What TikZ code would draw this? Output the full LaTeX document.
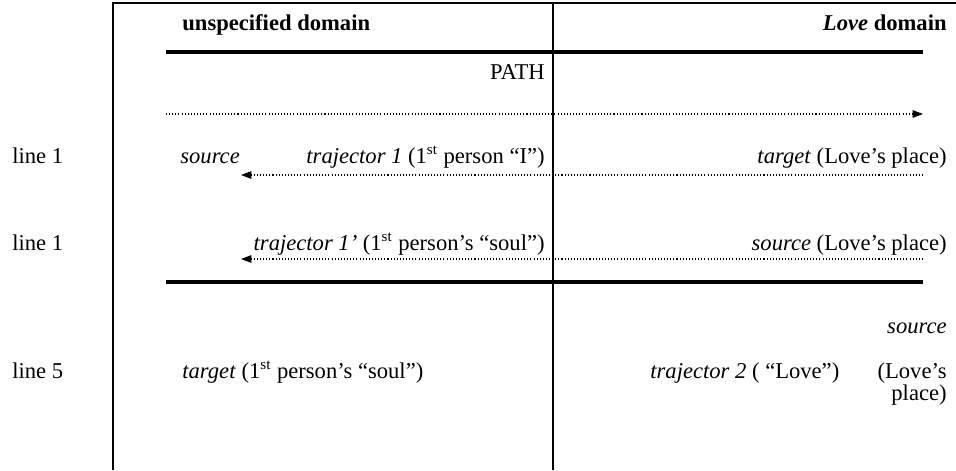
\documentclass[tikz,border=0pt]{standalone}
\usepackage{fontspec}
\setmainfont{Liberation Serif}
\usetikzlibrary{arrows.meta}

\begin{document}
\begin{tikzpicture}[x=0.01866cm,y=-0.01866cm,
  every node/.style={inner sep=0pt,font=\fontsize{12}{14.5}\selectfont},
  frameline/.style={line width=1.1pt},
  heavyrule/.style={line width=2.2pt},
  dotarrow/.style={line width=0.55pt,dash pattern=on 0.55pt off 1.1pt,
    -{Triangle[length=5.5pt,width=4pt]}}]
  \useasboundingbox (0,0) rectangle (956,470);

  % Frame: top edge and the two column rules
  \coordinate (TL) at (113,3);
  \coordinate (TR) at (956,3);
  \coordinate (BL) at (113,470);
  \coordinate (MT) at (553,3);
  \coordinate (MB) at (553,470);
  \draw[frameline] (BL) -- (TL) -- (TR);
  \draw[frameline] (MT) -- (MB);

  % Column headings
  \node[anchor=base west] (hleft) at (182,30) {\textbf{unspecified domain}};
  \node[anchor=base east] (hright) at (947,30) {\textbf{\textit{Love} domain}};

  % Heavy rules
  \coordinate (r1a) at (166,52);
  \coordinate (r1b) at (923,52);
  \coordinate (r2a) at (166,282);
  \coordinate (r2b) at (923,282);
  \draw[heavyrule] (r1a) -- (r1b);
  \draw[heavyrule] (r2a) -- (r2b);

  % PATH
  \node[anchor=base east] (path) at (545,79) {PATH};
  \coordinate (a1s) at (166,114);
  \coordinate (a1e) at (923,114);
  \draw[dotarrow] (a1s) -- (a1e);

  % first row
  \node[anchor=base west] (row1) at (12,163) {line 1};
  \node[anchor=base west] (src1) at (180,163) {\textit{source}};
  \node[anchor=base east] (traj1) at (545,163) {\textit{trajector 1} (1\textsuperscript{st} person “I”)};
  \node[anchor=base east] (tgt1) at (947,163) {\textit{target} (Love’s place)};
  \coordinate (a2s) at (923,175);
  \coordinate (a2e) at (241,175);
  \draw[dotarrow] (a2s) -- (a2e);

  % second row
  \node[anchor=base west] (row2) at (12,250) {line 1};
  \node[anchor=base east] (traj1b) at (545,250) {\textit{trajector 1’} (1\textsuperscript{st} person’s “soul”)};
  \node[anchor=base east] (src2) at (947,250) {\textit{source} (Love’s place)};
  \coordinate (a3s) at (923,259);
  \coordinate (a3e) at (241,259);
  \draw[dotarrow] (a3s) -- (a3e);

  % third row
  \node[anchor=base east] (src3) at (947,333) {\textit{source}};
  \node[anchor=base west] (row3) at (12,378) {line 5};
  \node[anchor=base west] (tgt3) at (182,378) {\textit{target} (1\textsuperscript{st} person’s “soul”)};
  \node[anchor=base west] (traj2) at (650,378) {\textit{trajector 2} ( “Love”)};
  \node[anchor=base east] (place1) at (947,378) {(Love’s};
  \node[anchor=base east] (place2) at (947,400) {place)};
\end{tikzpicture}
\end{document}
